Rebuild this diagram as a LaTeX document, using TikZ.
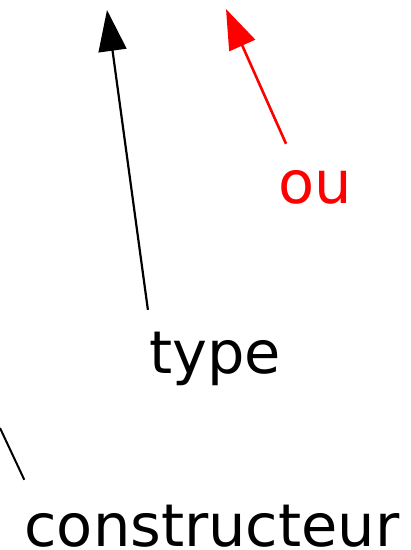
\documentclass[tikz,border=0pt]{standalone}
\usepackage{fontspec}
\setmainfont{DejaVu Sans}
\usepackage{tikz}
\usetikzlibrary{arrows.meta, positioning}
\definecolor{oured}{RGB}{255, 0, 0}

\begin{document}
\begin{tikzpicture}[
    x=1pt, y=-1pt,
    word/.style={font=\fontsize{59}{70}\selectfont, anchor=base,
                 inner sep=0pt, text height=44pt, text depth=0pt},
    arr/.style={-{Triangle[length=41pt, width=28pt]}, line width=2.2pt},
    redarr/.style={-{Triangle[length=40pt, width=28pt]}, line width=2.6pt, oured},
    plain/.style={line width=2pt},
]
\useasboundingbox (0,0) rectangle (411,550);

% Words
\node[word] (constructeur) at (212,546) {constructeur};
\node[word] (type) at (215,373) {type};
\node[word, text=oured] (ou) at (315,203) {ou};

% Free ends
\coordinate (typetop) at (107,10);
\coordinate (outop) at (226,9);
\coordinate (leftend) at (0,428);

% Arrows
\draw[arr] ([xshift=-1pt, yshift=19pt]type.north west) -- (typetop);
\draw[redarr] ([xshift=8pt, yshift=15pt]ou.north west) -- (outop);
\draw[plain] (leftend) -- ([yshift=22pt]constructeur.north west);

\end{tikzpicture}
\end{document}
